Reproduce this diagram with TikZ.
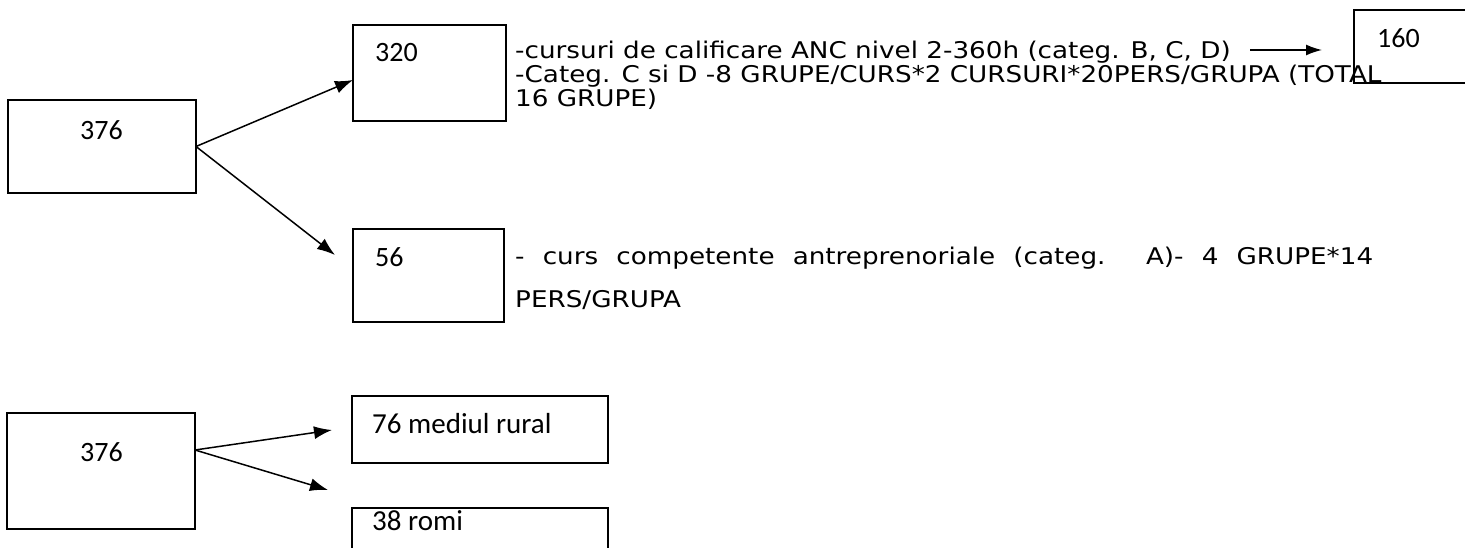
\documentclass[tikz,border=0pt]{standalone}
\usepackage{fontspec}
\setmainfont{Carlito}
\newfontfamily\tahoma[FakeStretch=1.14]{DejaVu Sans}
\usetikzlibrary{arrows.meta}
\tikzset{
    box/.style={draw, line width=1.6pt, inner sep=0pt, outer sep=0pt},
    lbl/.style={anchor=base west, inner sep=0pt},
    tah/.style={font=\tahoma\fontsize{23}{27}\selectfont},
    cal/.style={font=\fontsize{28}{34}\selectfont},
    arr/.style={line width=1.5pt, -{Latex[length=18pt,width=13pt]}}
}
\newcommand{\cell}[5]{\node[box, minimum width={(#4-#2)*1pt}, minimum height={(#5-#3)*1pt}] (#1) at ({(#2+#4)/2},{(#3+#5)/2}) {};}
\newcommand{\lablnode}[5]{\node[lbl, #5] (#1) at (#2,#3) {#4};}

\begin{document}
\begin{tikzpicture}[x=1pt, y=-1pt]
    \useasboundingbox (0,0) rectangle (1465,548);
    \clip (0,0) rectangle (1465,548);

    % top group
    \cell{a1}{8}{100}{196}{193}
    \cell{b1}{353}{25}{506}{121}
    \cell{b2}{353}{229}{504}{322}
    \cell{d1}{1354}{10}{1480}{83}

    \lablnode{na1}{80}{140}{376}{cal}
    \lablnode{nb1}{375}{62}{320}{cal}
    \lablnode{nb2}{375}{266}{56}{cal}
    \lablnode{nd1}{1377}{48}{160}{cal}

    % text next to 320
    \lablnode{t1}{515}{59}{-cursuri de calificare ANC nivel 2-360h (categ. B, C, D)}{tah}
    \lablnode{t2}{515}{83}{-Categ. C si D -8 GRUPE/CURS*2 CURSURI*20PERS/GRUPA (TOTAL}{tah}
    \lablnode{t3}{515}{107}{16 GRUPE)}{tah}

    % text next to 56
    \lablnode{p1}{515}{265}{\makebox[858pt][s]{- curs competente antreprenoriale (categ. A)- 4 GRUPE*14}}{tah}
    \lablnode{p2}{515}{307}{PERS/GRUPA}{tah}

    \coordinate (s1) at (1250,50);
    \coordinate (e1) at (1322,50);
    \coordinate (e2) at (335,255);
    \draw[arr] (a1.east) -- ([yshift=-7pt]b1.west);
    \draw[arr] (a1.east) -- (e2);
    \draw[line width=1.5pt, -{Latex[length=16pt,width=11pt]}] (s1) -- (e1);

    % bottom group
    \cell{a2}{7}{413}{195}{529}
    \cell{c1}{352}{396}{608}{463}
    \cell{c2}{352}{508}{608}{580}

    \lablnode{na2}{80}{461}{376}{cal}
    \lablnode{nc1}{372}{433}{\fontsize{29}{34}\selectfont 76 mediul rural}{cal}
    \lablnode{nc2}{372}{530}{\fontsize{29}{34}\selectfont 38 romi}{cal}

    \coordinate (s2) at (195,450);
    \coordinate (e3) at (332,430);
    \coordinate (e4) at (328,490);
    \draw[arr] (s2) -- (e3);
    \draw[arr] (s2) -- (e4);
\end{tikzpicture}
\end{document}
